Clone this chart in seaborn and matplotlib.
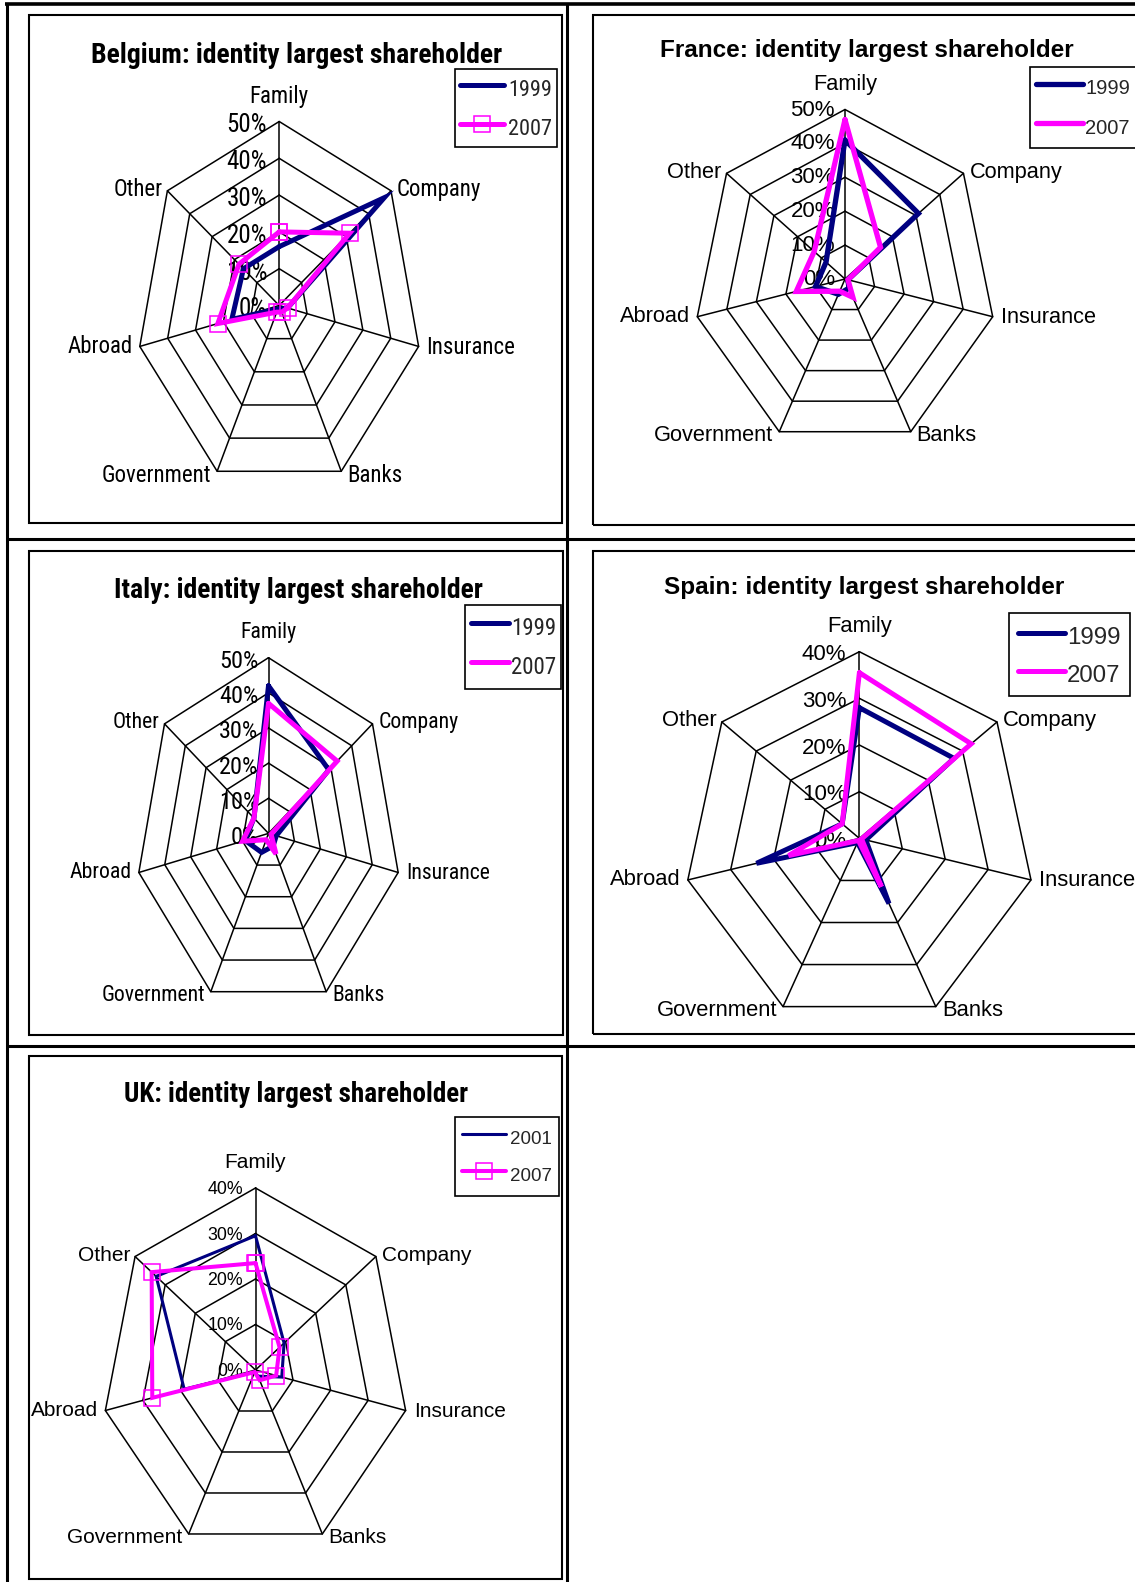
import numpy as np
import matplotlib
matplotlib.use("Agg")
import matplotlib.pyplot as plt
from matplotlib.lines import Line2D
from matplotlib.patches import Rectangle
from matplotlib import font_manager as fm
import seaborn as sns
import pandas as pd

sns.set_theme(style="white")
plt.rcParams["font.family"] = ["Liberation Sans", "DejaVu Sans"]

# ---------------- data ----------------
categories = ["Family", "Company", "Insurance", "Banks", "Government", "Abroad", "Other"]

belgium_1999 = [16, 47, 3, 1, 1, 17, 16]
belgium_2007 = [20, 31.5, 3, 2, 2, 22, 18]
france_1999 = [41, 31, 1, 3, 5, 10, 8]
france_2007 = [47, 15, 1, 6, 4, 16.5, 13]
italy_1999 = [42, 29, 3, 4, 6, 9, 7]
italy_2007 = [37, 33, 1, 6.5, 2, 10, 7]
spain_1999 = [28, 27.5, 1.5, 15.5, 1, 24, 5]
spain_2007 = [35.5, 32.5, 0.5, 11.5, 0.5, 16.5, 5]
uk_2001 = [29.5, 9.5, 7, 1.5, 0.5, 19, 33]
uk_2007 = [23.5, 8, 5.5, 2.5, 0.5, 27.5, 34.5]

titles = ["Belgium: identity largest shareholder",
          "France: identity largest shareholder",
          "Italy: identity largest shareholder",
          "Spain: identity largest shareholder",
          "UK: identity largest shareholder"]
series_names = [("1999", "2007"), ("1999", "2007"), ("1999", "2007"),
                ("1999", "2007"), ("2001", "2007")]
series_values = [(belgium_1999, belgium_2007), (france_1999, france_2007),
                 (italy_1999, italy_2007), (spain_1999, spain_2007),
                 (uk_2001, uk_2007)]
axis_max = [50, 50, 50, 40, 40]

# ---------------- fonts ----------------
fam_names = {f.name for f in fm.fontManager.ttflist}
narrow_name = None
for cand in ["Liberation Sans Narrow", "Arial Narrow", "Roboto Condensed",
             "Archivo Narrow", "Asap Condensed"]:
    if cand in fam_names:
        narrow_name = cand
        break

W, H = 1135, 1582
REG = ["Liberation Sans", "DejaVu Sans"]
if narrow_name:
    NARROW = [narrow_name, "DejaVu Sans"]
    NSCALE = 1.0
else:
    NARROW = REG
    NSCALE = 0.84
NAVY = "#000080"
PINK = "#FF00FF"

# leg: (x0, y0, font size, side pad px, handle len px, text pad px,
#       first-row centre below box top px, row spacing px)
layout = [
    dict(cx=279.2, cy=305.5, rx=143, ry=184, fam=NARROW, ns=NSCALE, markers=True,
         box=(29, 15.5, 561.5, 523.4), title_xy=(296.3, 62.7), title_size=20,
         cat_size=16.5, tick_size=18, tick_off=(-12, 4),
         leg=(455, 68.9, 16, 5, 44, 4, 18.9, 38.9), lw=(3.6, 3.6)),
    dict(cx=845.0, cy=279.0, rx=151.5, ry=169.5, fam=REG, ns=1.0, markers=False,
         box=(593.4, 15.5, 1160, 525), title_xy=(866.9, 56.8), title_size=17.5,
         cat_size=15.7, tick_size=16, tick_off=(-10, 0.5),
         leg=(1029.6, 67, 14.5, 6, 47, 2.5, 19.8, 39.9), lw=(3.8, 3.8)),
    dict(cx=268.5, cy=833.4, rx=133, ry=175.7, fam=NARROW, ns=NSCALE, markers=False,
         box=(29, 551, 563.4, 1035), title_xy=(298, 597.7), title_size=20,
         cat_size=15.7, tick_size=17.5, tick_off=(-10, 4),
         leg=(465.3, 605, 16.5, 5.4, 38, 2, 21.5, 39.4), lw=(3.6, 3.6)),
    dict(cx=859.4, cy=838.4, rx=176, ry=186.7, fam=REG, ns=1.0, markers=False,
         box=(593.4, 551, 1160, 1034), title_xy=(863.8, 594.3), title_size=17.5,
         cat_size=15.8, tick_size=16, tick_off=(-13, 3),
         leg=(1009.2, 613.3, 17.3, 9, 47, 2, 21.7, 38.3), lw=(3.6, 3.6)),
    dict(cx=255.5, cy=1370, rx=154, ry=182, fam=REG, ns=1.0, markers=True,
         box=(29, 1056, 561.6, 1579), title_xy=(295.7, 1102), title_size=19.5,
         title_fam=NARROW, title_ns=NSCALE, cat_size=15, tick_size=12.8,
         tick_off=(-12.5, 1.5),
         leg=(455.1, 1117, 13.5, 7, 43.6, 4.7, 19.8, 37.7), lw=(2.2, 2.9)),
]

label_off = [(0, -25, "center"), (6, -1, "left"), (8, 1, "left"), (6, 4, "left"),
             (-6, 4, "right"), (-7, 0, "right"), (-5, -1, "right")]


def pt(px):
    return px * 0.72


fig = plt.figure(figsize=(W / 100, H / 100), dpi=100)
fig.patch.set_facecolor("white")


def fig_line(x0, y0, x1, y1, lw):
    fig.add_artist(Line2D([x0 / W, x1 / W], [1 - y0 / H, 1 - y1 / H],
                          transform=fig.transFigure, color="black", lw=lw,
                          solid_capstyle="butt"))


fig_line(5, 4, W, 4, 2.6)
fig_line(7, 3, 7, H, 2.2)
fig_line(566.5, 3, 566.5, H, 2.2)
fig_line(6, 538.5, W, 538.5, 2.2)
fig_line(6, 1046, W, 1046, 2.2)

theta = np.arange(len(categories)) * 2 * np.pi / len(categories)
theta_closed = np.append(theta, 2 * np.pi)

for i, cfg in enumerate(layout):
    cx, cy, rx, ry = cfg["cx"], cfg["cy"], cfg["rx"], cfg["ry"]
    rmax = axis_max[i]
    fam = cfg["fam"]
    ns = cfg["ns"]

    bx0, by0, bx1, by1 = cfg["box"]
    fig.add_artist(Rectangle((bx0 / W, 1 - by1 / H), (bx1 - bx0) / W, (by1 - by0) / H,
                             transform=fig.transFigure, fill=False,
                             edgecolor="black", lw=1.5))

    ax = fig.add_axes([(cx - rx) / W, 1 - (cy + ry) / H, 2 * rx / W, 2 * ry / H],
                      projection="polar")
    ax.set_aspect("auto")
    ax.set_theta_zero_location("N")
    ax.set_theta_direction(-1)
    ax.patch.set_alpha(0)

    for r in range(10, rmax + 1, 10):
        ax.plot(theta_closed, [r] * len(theta_closed), color="black", lw=1.1,
                zorder=1, clip_on=False)
    for t in theta:
        ax.plot([t, t], [0, rmax], color="black", lw=1.1, zorder=1, clip_on=False)

    handles = []
    for k, (name, vals, col) in enumerate(zip(series_names[i], series_values[i],
                                              [NAVY, PINK])):
        df = pd.DataFrame({"theta": theta_closed, "share": list(vals) + [vals[0]]})
        kw = dict(color=col, lw=cfg["lw"][k], zorder=3 + k, clip_on=False,
                  solid_joinstyle="miter")
        if cfg["markers"] and k == 1:
            kw.update(marker="s", markersize=11.5, markerfacecolor="none",
                      markeredgecolor=col, markeredgewidth=1.1)
        sns.lineplot(data=df, x="theta", y="share", sort=False, estimator=None,
                     ax=ax, legend=False, **kw)
        handles.append(ax.get_lines()[-1])

    ax.set_xlim(0, 2 * np.pi)
    ax.set_ylim(0, rmax)
    ax.grid(False)
    ax.set_xticks([])
    ax.set_yticks([])
    ax.set_xlabel("")
    ax.set_ylabel("")
    ax.spines["polar"].set_visible(False)

    for t, cat, (dx, dy, ha) in zip(theta, categories, label_off):
        ax.annotate(cat, xy=(t, rmax), xytext=(pt(dx), -pt(dy)),
                    textcoords="offset points", ha=ha, va="center",
                    fontsize=cfg["cat_size"] * ns, family=fam, color="black",
                    annotation_clip=False, zorder=5)

    tdx, tdy = cfg["tick_off"]
    for v in range(0, rmax + 1, 10):
        ax.annotate(f"{v}%", xy=(0, v), xytext=(pt(tdx), -pt(tdy)),
                    textcoords="offset points", ha="right", va="center",
                    fontsize=cfg["tick_size"] * ns, family=fam, color="black",
                    annotation_clip=False, zorder=2)

    tx, ty = cfg["title_xy"]
    tns = cfg.get("title_ns", ns)
    fig.text(tx / W, 1 - ty / H, titles[i], ha="center", va="baseline",
             fontsize=cfg["title_size"] * tns, fontweight="bold",
             family=cfg.get("title_fam", fam), color="black")

    # legend: derive matplotlib legend paddings from the wanted pixel geometry
    lx, ly, lsize, bp, hl, htp, c1, sp = cfg["leg"]
    lsize = lsize * ns
    F = lsize * 100 / 72
    hh = max(0.7, ((c1 - bp) / F - 0.13) / 0.3)
    row_top = F * (0.3 * hh + 0.49)
    row_bot = max(0.35 * F * (hh - 0.7), 0.21 * F)
    ls = max(0.0, sp - row_top - row_bot)
    leg = ax.legend(handles=handles, labels=list(series_names[i]), loc="upper left",
                    bbox_to_anchor=(lx / W, 1 - ly / H), bbox_transform=fig.transFigure,
                    borderaxespad=0, borderpad=bp / F, labelspacing=ls / F,
                    handlelength=hl / F, handleheight=hh, handletextpad=htp / F,
                    frameon=True, fancybox=False, shadow=False, framealpha=1,
                    edgecolor="black", prop={"family": fam, "size": lsize})
    leg.get_frame().set_linewidth(1.2)

fig.savefig("out.png", dpi=100, facecolor="white")
